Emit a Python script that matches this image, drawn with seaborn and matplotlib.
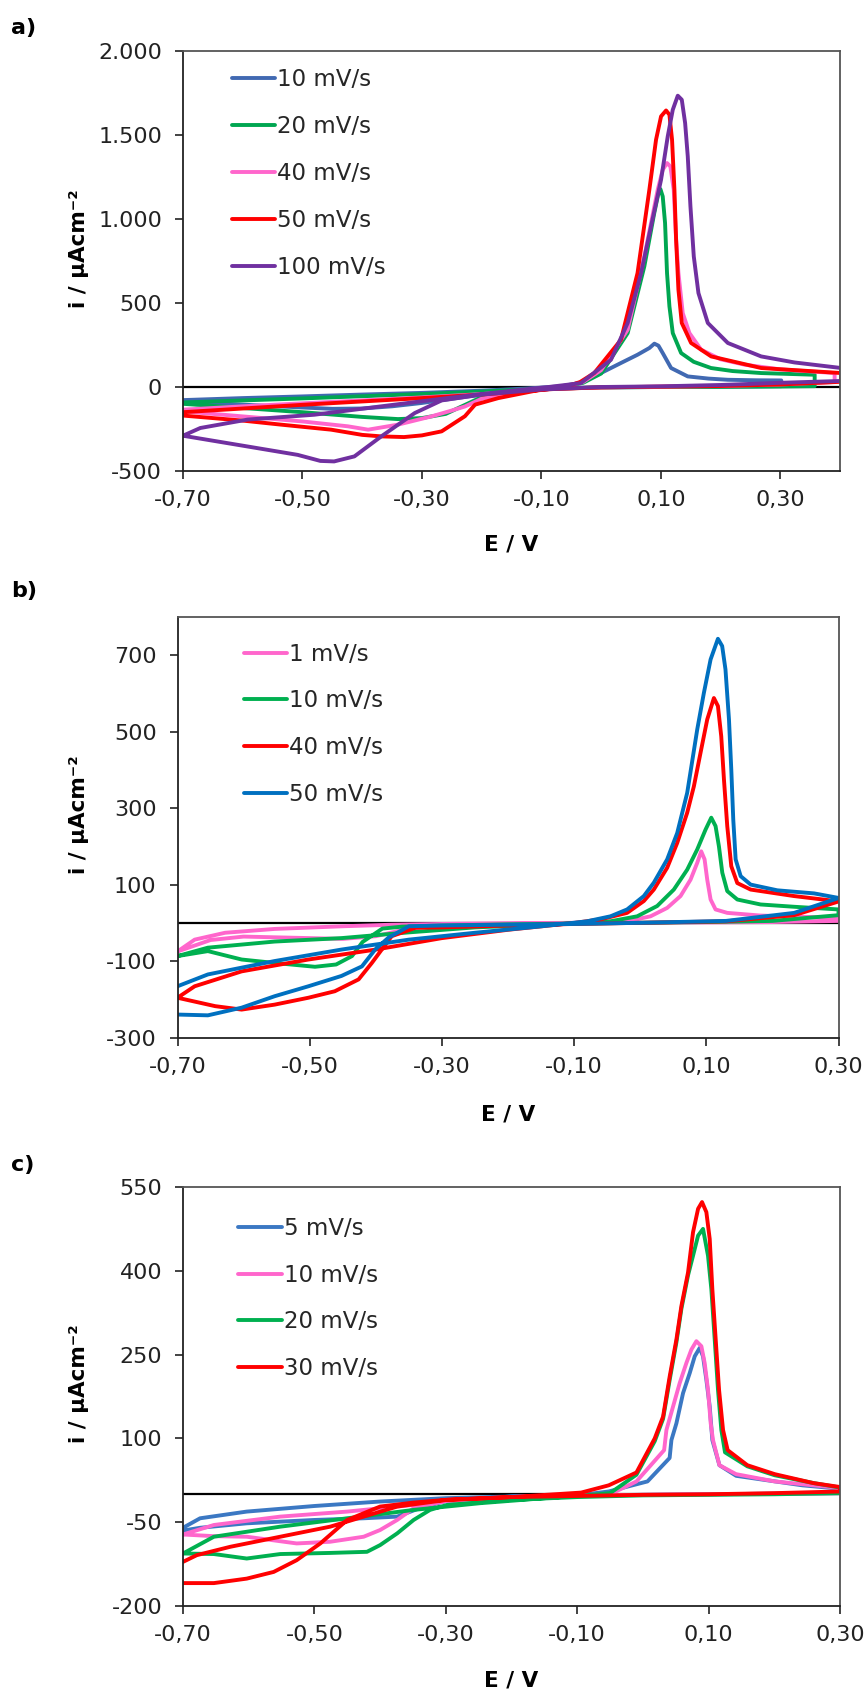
import matplotlib
matplotlib.use("Agg")
import matplotlib.pyplot as plt
import seaborn as sns
from matplotlib.ticker import FuncFormatter, FixedLocator

# ---------------- data ----------------
# Panel a
A_labels = ["10 mV/s", "20 mV/s", "40 mV/s", "50 mV/s", "100 mV/s"]
A_colors = ["#4169B2", "#00A651", "#FF66CC", "#FF0000", "#7030A0"]

A10_E = [-0.70, -0.60, -0.50, -0.40, -0.30, -0.20, -0.12, -0.067, -0.035, -0.0115, 0.0333, 0.061, 0.0808, 0.0892, 0.096, 0.1032, 0.1172, 0.1451, 0.18, 0.2122, 0.26, 0.3017,
         0.3017, 0.20, 0.10, 0.0, -0.08, -0.15, -0.20, -0.25, -0.30, -0.35, -0.40, -0.45, -0.50, -0.60, -0.70]
A10_i = [-78, -66, -56, -45, -35, -22, -8, 4, 25, 63, 143, 192, 232, 258, 246, 202, 113, 63, 50, 43, 40, 39,
         5, 2, 0, -2, -8, -25, -45, -70, -95, -115, -128, -130, -122, -105, -85]

A20_E = [-0.70, -0.60, -0.50, -0.40, -0.30, -0.20, -0.10, -0.06, -0.03, 0.0, 0.0445, 0.0724, 0.089, 0.096, 0.0993, 0.1032, 0.1071, 0.1104, 0.1144, 0.12, 0.134, 0.155, 0.184, 0.22, 0.268, 0.3576,
         0.3576, 0.30, 0.20, 0.10, 0.0, -0.08, -0.15, -0.20, -0.23, -0.26, -0.30, -0.34, -0.40, -0.50, -0.60, -0.70]
A20_i = [-92, -80, -68, -55, -42, -27, -10, 5, 25, 80, 321, 718, 1035, 1154, 1178, 1134, 976, 678, 480, 321, 202, 150, 113, 95, 83, 73,
         5, 3, 1, 0, -3, -10, -30, -60, -110, -160, -185, -191, -178, -150, -125, -100]

A40_E = [-0.70, -0.60, -0.50, -0.40, -0.30, -0.20, -0.10, -0.06, -0.03, 0.0, 0.0445, 0.0724, 0.0948, 0.1032, 0.1104, 0.116, 0.1216, 0.1256, 0.1295, 0.1367, 0.1479, 0.1675, 0.20, 0.24, 0.30, 0.391,
         0.391, 0.30, 0.20, 0.10, 0.0, -0.08, -0.15, -0.20, -0.228, -0.25, -0.284, -0.34, -0.39, -0.424, -0.50, -0.60, -0.70]
A40_i = [-135, -115, -97, -80, -62, -42, -16, 5, 30, 100, 341, 777, 1174, 1293, 1333, 1313, 1174, 877, 678, 440, 321, 222, 165, 133, 105, 83,
         30, 15, 6, 2, -3, -10, -35, -70, -116, -140, -175, -224, -254, -234, -205, -175, -145]

A50_E = [-0.70, -0.60, -0.50, -0.40, -0.30, -0.20, -0.10, -0.06, -0.035, -0.0115, 0.0333, 0.061, 0.0808, 0.092, 0.1004, 0.1088, 0.1144, 0.1188, 0.1228, 0.1256, 0.1295, 0.1351, 0.1507, 0.1843, 0.268, 0.402,
         0.402, 0.30, 0.20, 0.10, 0.0, -0.10, -0.172, -0.211, -0.228, -0.267, -0.30, -0.33, -0.368, -0.40, -0.452, -0.536, -0.60, -0.70]
A50_i = [-150, -128, -106, -86, -66, -45, -18, 0, 30, 83, 281, 678, 1174, 1472, 1611, 1646, 1621, 1472, 1174, 877, 579, 381, 262, 182, 113, 83,
         31, 15, 6, 2, -2, -15, -66, -105, -174, -264, -288, -298, -294, -285, -254, -224, -200, -170]

A100_E = [-0.70, -0.671, -0.592, -0.48, -0.368, -0.256, -0.144, -0.088, -0.034, 0.0165, 0.0445, 0.067, 0.0836, 0.1004, 0.1116, 0.120, 0.1284, 0.1351, 0.1407, 0.1451, 0.1496, 0.1552, 0.163, 0.1787, 0.2122, 0.268, 0.324, 0.402,
          0.402, 0.30, 0.20, 0.10, 0.0, -0.10, -0.20, -0.267, -0.312, -0.368, -0.413, -0.447, -0.47, -0.508, -0.592, -0.70]
A100_i = [-290, -244, -194, -165, -115, -65, -20, 0, 23, 162, 381, 678, 956, 1234, 1492, 1650, 1734, 1710, 1571, 1373, 1075, 777, 559, 381, 262, 182, 146, 113,
          36, 25, 12, 4, 0, -15, -45, -80, -155, -294, -413, -443, -440, -404, -354, -290]

A_yticks = [-500, 0, 500, 1000, 1500, 2000]

# Panel b
B_labels = ["1 mV/s", "10 mV/s", "40 mV/s", "50 mV/s"]
B_colors = ["#FF66CC", "#00B050", "#FF0000", "#0070C0"]

B1_E = [-0.70, -0.674, -0.628, -0.553, -0.45, -0.376, -0.30, -0.20, -0.10, -0.0198, 0.0156, 0.0408, 0.061, 0.0762, 0.0863, 0.0923, 0.0974, 0.1014, 0.1065, 0.114, 0.1317, 0.182, 0.30,
        0.30, 0.20, 0.10, 0.0, -0.10, -0.20, -0.30, -0.35, -0.40, -0.45, -0.50, -0.55, -0.60, -0.65, -0.70]
B1_i = [-75, -44, -26, -16, -9, -5, -3, -1, 0, 4, 17, 39, 70, 113, 157, 187, 166, 113, 61, 35, 26, 19, 13,
        5, 2, 1, 0, -1, -3, -6, -15, -35, -42, -40, -38, -36, -45, -75]

B10_E = [-0.70, -0.654, -0.553, -0.452, -0.35, -0.25, -0.15, -0.08, -0.045, -0.0046, 0.0257, 0.0509, 0.0711, 0.0863, 0.0989, 0.1075, 0.114, 0.1191, 0.1242, 0.1317, 0.1469, 0.182, 0.2327, 0.30,
         0.30, 0.20, 0.10, 0.0, -0.10, -0.20, -0.30, -0.36, -0.39, -0.42, -0.436, -0.46, -0.492, -0.553, -0.603, -0.654, -0.70]
B10_i = [-87, -65, -49, -40, -25, -12, -5, 0, 4, 17, 44, 87, 139, 192, 244, 275, 253, 200, 131, 83, 61, 48, 42, 35,
         20, 5, 2, 0, -2, -4, -7, -10, -15, -50, -87, -109, -115, -105, -96, -74, -87]

B40_E = [-0.70, -0.674, -0.603, -0.502, -0.40, -0.30, -0.199, -0.098, -0.0602, -0.0198, 0.0055, 0.0206, 0.0408, 0.056, 0.0711, 0.0812, 0.0913, 0.1014, 0.1115, 0.1176, 0.1226, 0.1267, 0.1317, 0.1378, 0.1469, 0.167, 0.2327, 0.3004,
         0.3004, 0.233, 0.13, 0.0, -0.10, -0.20, -0.30, -0.34, -0.376, -0.406, -0.426, -0.462, -0.502, -0.553, -0.603, -0.643, -0.70]
B40_i = [-196, -166, -127, -96, -70, -40, -18, 0, 9, 26, 57, 87, 144, 209, 288, 357, 445, 532, 588, 567, 488, 375, 253, 148, 104, 87, 70, 56,
         56, 20, 4, 0, -3, -7, -12, -13, -35, -105, -148, -179, -196, -214, -227, -218, -196]

B50_E = [-0.70, -0.654, -0.553, -0.452, -0.35, -0.25, -0.149, -0.0804, -0.045, -0.0198, 0.0055, 0.0206, 0.0408, 0.056, 0.0711, 0.0863, 0.0964, 0.1065, 0.1176, 0.124, 0.129, 0.1343, 0.1378, 0.1408, 0.1444, 0.152, 0.1671, 0.2075, 0.263, 0.3004,
         0.233, 0.13, 0.0, -0.10, -0.20, -0.30, -0.35, -0.381, -0.401, -0.421, -0.452, -0.502, -0.553, -0.603, -0.654, -0.70]
B50_i = [-166, -135, -100, -70, -44, -26, -9, 4, 17, 35, 70, 105, 166, 235, 340, 506, 602, 689, 743, 724, 663, 532, 401, 270, 166, 122, 100, 85, 77, 65,
         26, 5, 0, -3, -5, -7, -9, -39, -70, -114, -139, -166, -192, -222, -242, -240]

B_yticks = [-300, -100, 100, 300, 500, 700]

# Panel c
C_labels = ["5 mV/s", "10 mV/s", "20 mV/s", "30 mV/s"]
C_colors = ["#3B78C3", "#FF66CC", "#00B050", "#FF0000"]

C5_E = [-0.70, -0.674, -0.603, -0.50, -0.40, -0.30, -0.20, -0.10, -0.052, 0.007, 0.0407, 0.0434, 0.051, 0.0611, 0.0713, 0.0789, 0.0865, 0.0915, 0.0966, 0.1017, 0.1057, 0.1165, 0.142, 0.2428, 0.30,
        0.30, 0.20, 0.10, 0.0, -0.10, -0.20, -0.30, -0.34, -0.374, -0.425, -0.50, -0.603, -0.674, -0.70]
C5_i = [-60, -43, -31, -21, -13, -7, -4, -2, 5, 23, 65, 97, 127, 181, 217, 247, 262, 247, 205, 157, 97, 52, 33, 16, 10,
        2, 1, 0, -1, -2, -4, -12, -25, -40, -43, -46, -52, -60, -65]

C10_E = [-0.70, -0.653, -0.552, -0.45, -0.349, -0.30, -0.20, -0.10, -0.05, -0.0098, 0.0323, 0.0358, 0.0459, 0.056, 0.0662, 0.0738, 0.0814, 0.089, 0.094, 0.0991, 0.1032, 0.1067, 0.1165, 0.1418, 0.2007, 0.2848, 0.30,
         0.30, 0.20, 0.10, 0.0, -0.10, -0.20, -0.30, -0.349, -0.374, -0.40, -0.425, -0.476, -0.527, -0.603, -0.653, -0.70]
C10_i = [-72, -55, -40, -31, -19, -12, -6, -2, 0, 23, 79, 115, 157, 199, 235, 259, 274, 265, 235, 187, 127, 97, 52, 36, 23, 13, 10,
         2, 1, 0, -1, -2, -5, -12, -25, -46, -64, -76, -85, -88, -76, -75, -72]

C20_E = [-0.70, -0.653, -0.552, -0.45, -0.349, -0.248, -0.15, -0.10, -0.05, -0.0098, 0.018, 0.0307, 0.0408, 0.051, 0.0586, 0.0687, 0.0763, 0.084, 0.0915, 0.0991, 0.1042, 0.1093, 0.1143, 0.1194, 0.125, 0.159, 0.2007, 0.26, 0.30,
         0.30, 0.20, 0.10, 0.0, -0.10, -0.20, -0.298, -0.324, -0.349, -0.374, -0.40, -0.42, -0.476, -0.552, -0.603, -0.653, -0.70]
C20_i = [-106, -76, -58, -43, -28, -16, -7, -3, 2, 35, 95, 135, 205, 272, 332, 392, 427, 463, 475, 427, 367, 277, 187, 115, 75, 50, 34, 20, 12,
         2, 0, -1, -2, -5, -10, -19, -28, -46, -70, -91, -103, -105, -107, -115, -107, -106]

C30_E = [-0.70, -0.679, -0.628, -0.552, -0.476, -0.425, -0.374, -0.298, -0.20, -0.094, -0.052, -0.0098, 0.018, 0.0307, 0.0408, 0.051, 0.0586, 0.0687, 0.0763, 0.084, 0.090, 0.0966, 0.1017, 0.1057, 0.1108, 0.1159, 0.122, 0.129, 0.159, 0.2007, 0.2596, 0.30,
         0.30, 0.20, 0.10, 0.0, -0.10, -0.20, -0.30, -0.35, -0.40, -0.45, -0.491, -0.527, -0.562, -0.603, -0.653, -0.70]
C30_i = [-121, -109, -94, -76, -58, -40, -22, -10, -5, 3, 16, 39, 100, 139, 211, 277, 337, 397, 469, 511, 523, 505, 457, 367, 277, 187, 115, 79, 52, 36, 20, 13,
         5, 2, 0, -1, -3, -5, -10, -15, -22, -46, -88, -118, -139, -151, -159, -159]

C_yticks = [-200, -50, 100, 250, 400, 550]

X_ticks = [-0.70, -0.50, -0.30, -0.10, 0.10, 0.30]

# ---------------- styling ----------------
sns.set_theme(style="white")
plt.rcParams["font.family"] = ["DejaVu Sans"]
plt.rcParams["lines.solid_joinstyle"] = "round"
plt.rcParams["lines.solid_capstyle"] = "round"

W, H = 868, 1695
fig = plt.figure(figsize=(W / 100, H / 100), dpi=100)


def rect(l, t, r, b):
    return [l / W, 1 - b / H, (r - l) / W, (b - t) / H]


def xfmt(v, pos):
    return f"{v:.2f}".replace(".", ",")


def yfmt_thousands(v, pos):
    return f"{int(round(v)):,}".replace(",", ".")


panels = [
    dict(rect=rect(183, 51, 840, 471), xlim=(-0.70, 0.40), ylim=(-500, 2000), yticks=A_yticks,
         curves=[(A_labels[0], A10_E, A10_i, A_colors[0]), (A_labels[1], A20_E, A20_i, A_colors[1]),
                 (A_labels[2], A40_E, A40_i, A_colors[2]), (A_labels[3], A50_E, A50_i, A_colors[3]),
                 (A_labels[4], A100_E, A100_i, A_colors[4])],
         leg=(0.074, 0.959), xlab=-0.150, ylab=-0.1437, letter="a)", letter_y=18),
    dict(rect=rect(177.5, 617, 838.5, 1037.5), xlim=(-0.70, 0.30), ylim=(-300, 800), yticks=B_yticks,
         curves=[(B_labels[0], B1_E, B1_i, B_colors[0]), (B_labels[1], B10_E, B10_i, B_colors[1]),
                 (B_labels[2], B40_E, B40_i, B_colors[2]), (B_labels[3], B50_E, B50_i, B_colors[3])],
         leg=(0.100, 0.939), xlab=-0.160, ylab=-0.1345, letter="b)", letter_y=581),
    dict(rect=rect(183, 1187, 840, 1606), xlim=(-0.70, 0.30), ylim=(-200, 550), yticks=C_yticks,
         curves=[(C_labels[0], C5_E, C5_i, C_colors[0]), (C_labels[1], C10_E, C10_i, C_colors[1]),
                 (C_labels[2], C20_E, C20_i, C_colors[2]), (C_labels[3], C30_E, C30_i, C_colors[3])],
         leg=(0.0837, 0.929), xlab=-0.153, ylab=-0.1437, letter="c)", letter_y=1155),
]

for k, p in enumerate(panels):
    ax = fig.add_axes(p["rect"])
    ax.axhline(0, color="black", lw=1.6, zorder=1.5)
    for lab, E, I, col in p["curves"]:
        sns.lineplot(x=E, y=I, sort=False, estimator=None, color=col, linewidth=2.8,
                     label=lab, ax=ax)
    ax.set_xlim(*p["xlim"])
    ax.set_ylim(*p["ylim"])
    ax.xaxis.set_major_locator(FixedLocator(X_ticks))
    ax.yaxis.set_major_locator(FixedLocator(p["yticks"]))
    ax.xaxis.set_major_formatter(FuncFormatter(xfmt))
    if k == 0:
        ax.yaxis.set_major_formatter(FuncFormatter(yfmt_thousands))
    else:
        ax.yaxis.set_major_formatter(FuncFormatter(lambda v, pos: f"{int(round(v))}"))
    ax.tick_params(axis="both", which="major", direction="out", length=6, width=1.2,
                   labelsize=16, colors="#222222", left=True, bottom=True)
    ax.tick_params(axis="y", pad=9)
    ax.tick_params(axis="x", pad=8)
    for side in ["left", "bottom"]:
        ax.spines[side].set_color("#222222")
        ax.spines[side].set_linewidth(1.3)
    for side in ["top", "right"]:
        ax.spines[side].set_color("#555555")
        ax.spines[side].set_linewidth(1.3)
        ax.spines[side].set_visible(True)
    ax.set_xlabel("E / V", fontsize=15.5, fontweight="bold", color="black")
    ax.set_ylabel("i / µAcm⁻²", fontsize=15.5, fontweight="bold", color="black")
    ax.xaxis.set_label_coords(0.5, p["xlab"])
    ax.yaxis.set_label_coords(p["ylab"], 0.53)
    ax.legend(loc="upper left", bbox_to_anchor=p["leg"], frameon=False, fontsize=16.5,
              handlelength=1.91, handletextpad=0.09, labelspacing=1.04, borderpad=0,
              borderaxespad=0)
    fig.text(11 / W, 1 - p["letter_y"] / H, p["letter"], fontsize=16, fontweight="bold",
             ha="left", va="top", color="black")

fig.savefig("out.png", dpi=100)
